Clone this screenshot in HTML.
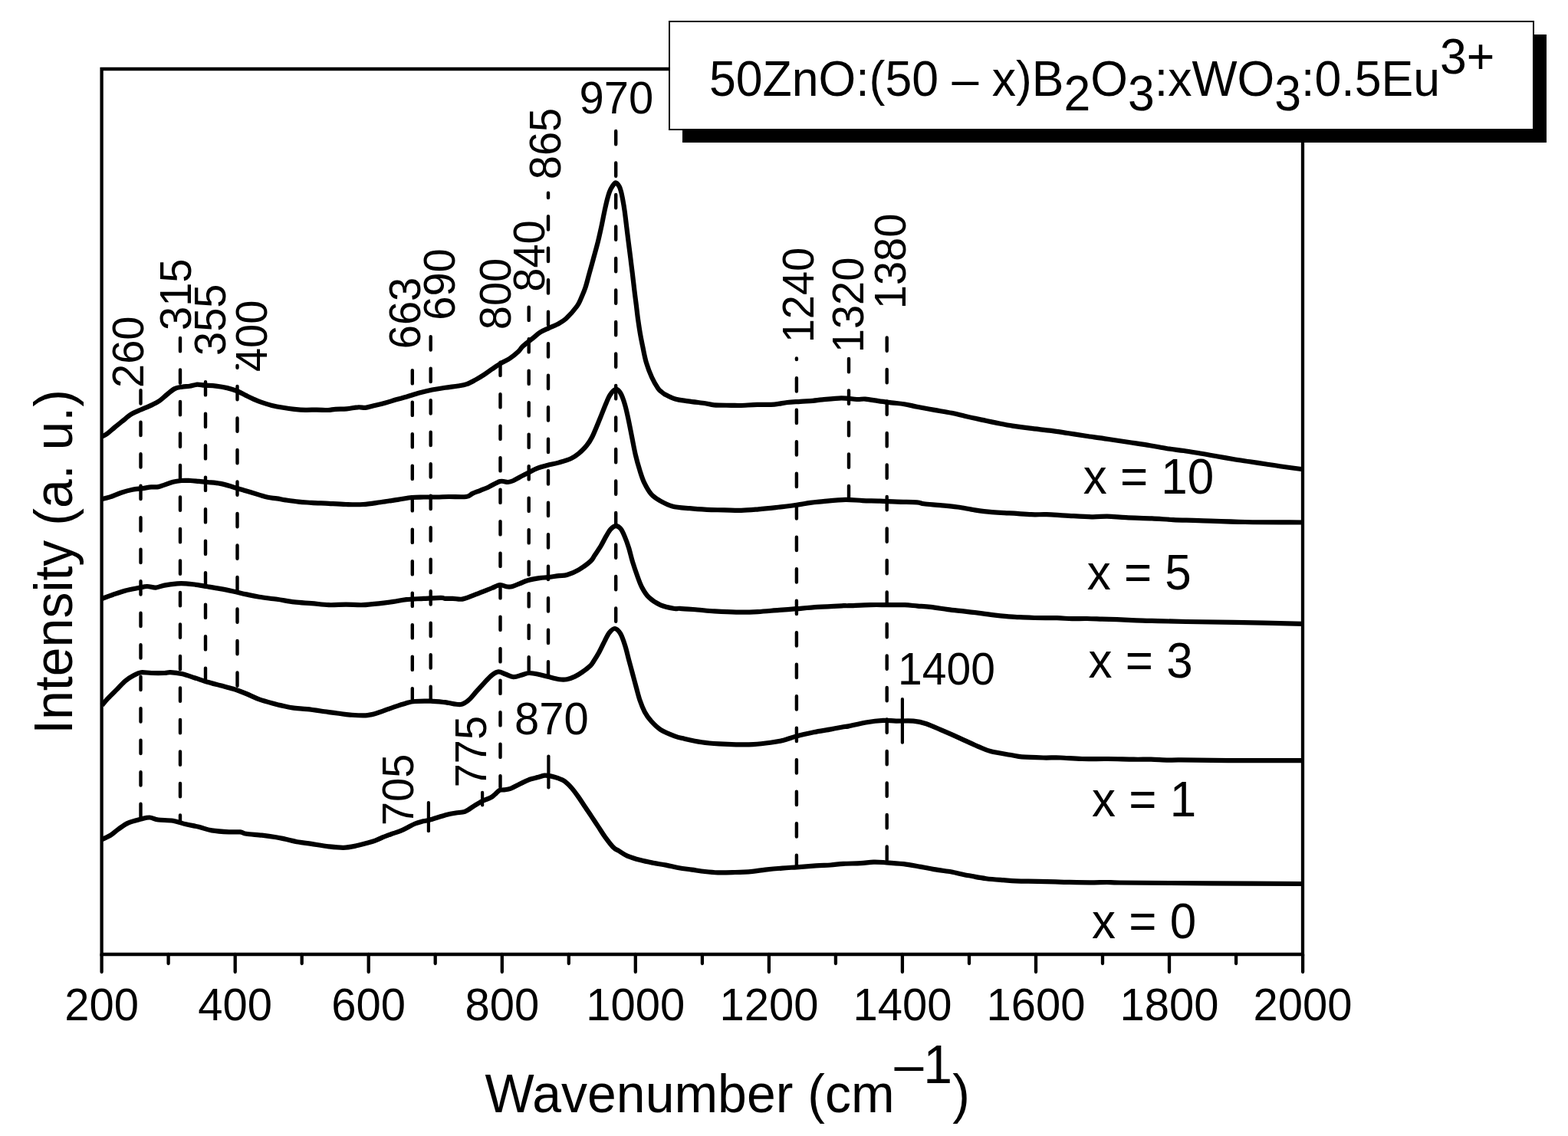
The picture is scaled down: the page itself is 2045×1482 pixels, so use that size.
<!DOCTYPE html>
<html><head><meta charset="utf-8"><title>Raman spectra</title>
<style>html,body{margin:0;padding:0;background:#fff;}svg{display:block;}text{font-family:"Liberation Sans", Arial, Helvetica, sans-serif;fill:#000;}</style></head><body>
<svg width="2045" height="1482" viewBox="0 0 2045 1482">
<rect width="2045" height="1482" fill="#fff"/>
<g stroke="#000" stroke-width="4.3" fill="none" stroke-linecap="square"><path d="M132.6,1245 L132.6,90 L1699,90 L1699,1245 Z"/><path stroke-linecap="round" d="M132.6,1245 L132.6,1268.0 M219.6,1245 L219.6,1257.0 M306.7,1245 L306.7,1268.0 M393.7,1245 L393.7,1257.0 M480.7,1245 L480.7,1268.0 M567.7,1245 L567.7,1257.0 M654.8,1245 L654.8,1268.0 M741.8,1245 L741.8,1257.0 M828.8,1245 L828.8,1268.0 M915.9,1245 L915.9,1257.0 M1002.9,1245 L1002.9,1268.0 M1089.9,1245 L1089.9,1257.0 M1176.9,1245 L1176.9,1268.0 M1264.0,1245 L1264.0,1257.0 M1351.0,1245 L1351.0,1268.0 M1438.0,1245 L1438.0,1257.0 M1525.0,1245 L1525.0,1268.0 M1612.1,1245 L1612.1,1257.0 M1699.1,1245 L1699.1,1268.0"/></g>
<text transform="translate(132.6,1330.5) scale(1,1.035)" font-size="58" text-anchor="middle">200</text>
<text transform="translate(306.7,1330.5) scale(1,1.035)" font-size="58" text-anchor="middle">400</text>
<text transform="translate(480.7,1330.5) scale(1,1.035)" font-size="58" text-anchor="middle">600</text>
<text transform="translate(654.8,1330.5) scale(1,1.035)" font-size="58" text-anchor="middle">800</text>
<text transform="translate(828.8,1330.5) scale(1,1.035)" font-size="58" text-anchor="middle">1000</text>
<text transform="translate(1002.9,1330.5) scale(1,1.035)" font-size="58" text-anchor="middle">1200</text>
<text transform="translate(1176.9,1330.5) scale(1,1.035)" font-size="58" text-anchor="middle">1400</text>
<text transform="translate(1351.0,1330.5) scale(1,1.035)" font-size="58" text-anchor="middle">1600</text>
<text transform="translate(1525.0,1330.5) scale(1,1.035)" font-size="58" text-anchor="middle">1800</text>
<text transform="translate(1699.1,1330.5) scale(1,1.035)" font-size="58" text-anchor="middle">2000</text>
<path d="M183.5,509.0 L183.5,1069.0" stroke="#000" stroke-width="4.4" stroke-linecap="round" stroke-dasharray="17.3 24.2" stroke-dashoffset="41.30" fill="none"/>
<path d="M235.0,440.7 L235.0,1073.0" stroke="#000" stroke-width="4.4" stroke-linecap="round" stroke-dasharray="17.3 24.2" stroke-dashoffset="41.30" fill="none"/>
<path d="M268.0,497.9 L268.0,888.0" stroke="#000" stroke-width="4.4" stroke-linecap="round" stroke-dasharray="17.3 24.2" stroke-dashoffset="41.30" fill="none"/>
<path d="M309.5,477.0 L309.5,900.0" stroke="#000" stroke-width="4.4" stroke-linecap="round" stroke-dasharray="17.3 24.2" stroke-dashoffset="14.50" fill="none"/>
<path d="M537.8,482.9 L537.8,915.0" stroke="#000" stroke-width="4.4" stroke-linecap="round" stroke-dasharray="17.3 24.2" stroke-dashoffset="41.30" fill="none"/>
<path d="M561.7,439.0 L561.7,915.0" stroke="#000" stroke-width="4.4" stroke-linecap="round" stroke-dasharray="17.3 24.2" stroke-dashoffset="41.30" fill="none"/>
<path d="M652.5,472.4 L652.5,1027.0" stroke="#000" stroke-width="4.4" stroke-linecap="round" stroke-dasharray="17.3 24.2" stroke-dashoffset="41.30" fill="none"/>
<path d="M689.7,400.4 L689.7,877.0" stroke="#000" stroke-width="4.4" stroke-linecap="round" stroke-dasharray="17.3 24.2" stroke-dashoffset="41.30" fill="none"/>
<path d="M715.0,251.8 L715.0,882.0" stroke="#000" stroke-width="4.4" stroke-linecap="round" stroke-dasharray="17.3 24.2" stroke-dashoffset="11.10" fill="none"/>
<path d="M803.2,170.8 L803.2,819.0" stroke="#000" stroke-width="4.4" stroke-linecap="round" stroke-dasharray="17.3 24.2" stroke-dashoffset="41.30" fill="none"/>
<path d="M1038.9,467.5 L1038.9,1130.0" stroke="#000" stroke-width="4.4" stroke-linecap="round" stroke-dasharray="17.3 24.2" stroke-dashoffset="15.80" fill="none"/>
<path d="M1107.0,467.7 L1107.0,650.0" stroke="#000" stroke-width="4.4" stroke-linecap="round" stroke-dasharray="17.3 24.2" stroke-dashoffset="41.30" fill="none"/>
<path d="M1156.7,440.2 L1156.7,1124.0" stroke="#000" stroke-width="4.4" stroke-linecap="round" stroke-dasharray="17.3 24.2" stroke-dashoffset="41.30" fill="none"/>
<path d="M558.9,1047.1 L558.9,1084.2" stroke="#000" stroke-width="4.2" stroke-linecap="round" fill="none"/>
<path d="M629.1,1033.9 L629.1,1050.4" stroke="#000" stroke-width="4.2" stroke-linecap="round" fill="none"/>
<path d="M715.4,986.5 L715.4,1027.4" stroke="#000" stroke-width="4.2" stroke-linecap="round" fill="none"/>
<path d="M1176.9,912.1 L1176.9,968.7" stroke="#000" stroke-width="4.2" stroke-linecap="round" fill="none"/>
<path d="M133.0,569.6 C134.1,569.0 137.0,567.8 139.8,565.8 C142.6,563.8 146.3,560.2 149.6,557.5 C152.8,554.8 155.7,552.6 159.3,549.7 C162.9,546.9 167.0,542.9 171.1,540.4 C175.2,537.9 179.2,536.5 183.8,534.5 C188.4,532.5 194.4,530.1 198.5,528.1 C202.6,526.1 204.9,525.1 208.2,522.8 C211.4,520.5 214.7,517.1 218.0,514.5 C221.3,511.9 224.5,508.7 227.8,507.1 C231.1,505.5 234.3,505.3 237.6,504.7 C240.9,504.1 244.2,504.2 247.4,503.7 C250.7,503.2 253.9,501.9 257.1,501.7 C260.4,501.5 262.8,502.4 266.9,502.7 C271.0,503.0 276.7,503.1 281.6,503.7 C286.5,504.3 291.7,505.1 296.3,506.1 C300.9,507.2 304.9,508.4 309.0,510.0 C313.1,511.6 317.2,514.2 320.7,515.9 C324.2,517.6 326.8,518.9 330.0,520.3 C333.2,521.7 335.7,523.0 339.8,524.4 C343.9,525.8 349.6,527.7 354.5,528.9 C359.4,530.1 364.2,531.0 369.1,531.8 C374.0,532.6 378.9,533.3 383.8,533.8 C388.7,534.3 393.6,534.7 398.5,534.8 C403.4,534.9 408.2,534.6 413.1,534.6 C418.0,534.6 423.7,535.1 427.8,535.0 C431.9,534.9 433.5,534.1 437.6,533.8 C441.7,533.5 447.3,533.7 452.2,533.3 C457.1,532.9 462.8,531.5 466.9,531.3 C471.0,531.0 473.4,532.1 476.7,531.8 C480.0,531.5 482.4,530.4 486.5,529.4 C490.6,528.4 496.2,527.3 501.1,526.0 C506.0,524.7 511.0,523.0 515.8,521.6 C520.6,520.2 524.8,519.2 530.0,517.7 C535.2,516.2 541.3,514.0 546.9,512.5 C552.5,511.0 558.1,509.6 563.7,508.5 C569.3,507.4 575.0,506.5 580.6,505.7 C586.2,504.9 592.8,504.2 597.5,503.5 C602.2,502.8 605.0,502.5 608.7,501.2 C612.5,499.9 616.2,497.7 620.0,495.6 C623.8,493.6 627.5,491.3 631.2,488.9 C635.0,486.5 638.8,483.5 642.5,481.0 C646.2,478.5 650.0,475.9 653.7,473.7 C657.5,471.4 661.2,470.0 665.0,467.5 C668.8,465.0 673.4,461.1 676.2,458.5 C679.0,455.9 679.0,454.3 681.8,451.7 C684.6,449.1 689.4,445.7 693.1,442.7 C696.9,439.7 700.5,436.1 704.3,433.7 C708.0,431.3 711.9,429.9 715.6,428.1 C719.4,426.3 723.0,425.2 726.8,423.1 C730.5,421.0 733.8,419.6 738.1,415.7 C742.4,411.8 749.2,404.0 752.5,399.5 C755.8,395.0 756.2,392.9 758.0,388.8 C759.8,384.7 761.7,380.4 763.5,375.0 C765.3,369.6 766.8,363.0 768.6,356.6 C770.4,350.2 772.4,343.1 774.2,336.4 C776.1,329.6 778.0,322.9 779.7,316.1 C781.4,309.4 782.8,302.6 784.3,295.9 C785.8,289.1 787.1,281.5 788.4,275.6 C789.7,269.7 790.8,264.6 791.9,260.4 C793.0,256.2 793.8,253.2 794.9,250.3 C796.0,247.4 797.1,245.2 798.5,243.2 C799.9,241.2 801.5,238.4 803.0,238.4 C804.5,238.4 806.4,241.2 807.6,243.2 C808.8,245.2 809.3,247.4 810.1,250.3 C810.9,253.2 811.4,256.2 812.2,260.4 C813.0,264.6 813.9,269.7 814.7,275.6 C815.5,281.5 816.4,289.1 817.2,295.9 C818.0,302.6 818.9,309.4 819.7,316.1 C820.6,322.9 821.4,329.6 822.3,336.4 C823.1,343.1 823.9,349.5 824.8,356.6 C825.6,363.7 826.6,372.0 827.4,378.9 C828.2,385.8 829.0,391.5 829.8,397.8 C830.6,404.1 831.2,410.4 832.1,416.7 C833.0,423.0 833.9,429.3 835.0,435.6 C836.1,441.9 837.4,448.2 838.7,454.5 C840.0,460.8 841.1,467.1 843.0,473.4 C844.9,479.7 847.6,486.8 850.1,492.3 C852.6,497.8 856.0,503.4 858.1,506.5 C860.2,509.6 861.1,509.7 862.6,511.0 C864.1,512.3 864.1,512.8 867.1,514.4 C870.1,516.0 875.5,519.0 880.6,520.5 C885.7,522.0 890.9,522.4 897.5,523.4 C904.1,524.4 914.4,525.4 920.0,526.2 C925.6,527.0 925.6,528.0 931.2,528.4 C936.8,528.8 948.1,528.7 953.7,528.8 C959.3,528.9 959.4,529.1 965.0,529.0 C970.6,528.9 980.0,528.1 987.5,527.9 C995.0,527.7 1003.5,528.1 1010.0,527.6 C1016.5,527.1 1021.2,525.6 1026.8,525.0 C1032.4,524.4 1038.2,524.2 1043.7,523.8 C1049.2,523.4 1055.2,523.2 1060.0,522.8 C1064.8,522.4 1066.3,522.0 1072.5,521.4 C1078.7,520.8 1089.7,519.4 1097.2,519.3 C1104.7,519.2 1112.2,520.8 1117.5,521.0 C1122.8,521.2 1124.0,520.2 1128.7,520.6 C1133.4,521.0 1140.0,522.3 1145.6,523.1 C1151.2,523.9 1156.9,524.6 1162.5,525.3 C1168.1,526.0 1173.7,526.3 1179.3,527.2 C1184.9,528.1 1189.6,529.4 1196.2,530.7 C1202.8,532.0 1211.2,533.5 1218.7,534.9 C1226.2,536.2 1234.6,537.5 1241.2,538.8 C1247.8,540.1 1251.6,541.2 1258.1,542.7 C1264.6,544.2 1273.3,546.2 1280.0,547.6 C1286.7,549.0 1291.3,550.1 1298.1,551.4 C1304.9,552.7 1313.1,554.4 1320.6,555.6 C1328.1,556.8 1334.7,557.7 1343.1,558.7 C1351.5,559.8 1362.8,560.8 1371.2,561.9 C1379.6,563.0 1386.2,564.1 1393.7,565.2 C1401.2,566.4 1407.8,567.5 1416.2,568.8 C1424.6,570.0 1434.9,571.3 1444.3,572.7 C1453.7,574.1 1463.2,575.6 1472.5,577.0 C1481.8,578.4 1491.7,579.8 1500.0,581.2 C1508.3,582.6 1515.0,584.1 1522.3,585.2 C1529.6,586.3 1536.6,587.0 1543.8,588.0 C1551.0,589.0 1558.1,590.3 1565.3,591.5 C1572.5,592.7 1579.6,594.0 1586.8,595.3 C1594.0,596.5 1601.1,597.8 1608.3,599.0 C1615.5,600.2 1622.7,601.2 1629.9,602.3 C1637.1,603.4 1644.2,604.4 1651.4,605.5 C1658.6,606.6 1665.0,607.6 1672.9,608.7 C1680.8,609.8 1694.7,611.7 1699.0,612.3" stroke="#000" stroke-width="6.2" fill="none" stroke-linejoin="round" stroke-linecap="butt"/>
<path d="M133.0,651.0 C134.8,650.6 139.3,649.8 143.5,648.4 C147.7,647.0 153.2,644.3 158.1,642.7 C163.0,641.1 168.0,639.7 172.7,638.8 C177.4,637.9 182.1,637.7 186.2,637.1 C190.3,636.5 194.1,635.7 197.5,635.4 C200.9,635.1 203.7,635.6 206.5,635.1 C209.3,634.6 211.2,633.7 214.4,632.6 C217.6,631.5 221.9,629.6 225.6,628.7 C229.3,627.8 233.1,627.3 236.8,627.0 C240.6,626.7 244.3,626.9 248.1,627.0 C251.8,627.1 255.6,627.6 259.3,627.9 C263.1,628.2 265.9,628.5 270.6,629.0 C275.3,629.5 281.9,629.8 287.5,630.9 C293.1,632.0 298.7,633.8 304.3,635.4 C309.9,637.0 315.6,638.8 321.2,640.5 C326.8,642.2 333.4,644.2 338.1,645.6 C342.8,647.0 345.5,648.0 349.3,648.8 C353.1,649.6 357.3,649.8 361.2,650.4 C365.1,651.0 367.8,651.7 372.5,652.4 C377.2,653.1 383.8,654.1 389.4,654.7 C395.0,655.3 399.6,655.4 406.2,655.8 C412.8,656.2 421.2,656.5 428.7,656.9 C436.2,657.3 443.7,657.8 451.2,658.0 C458.7,658.2 466.2,658.5 473.7,658.0 C481.2,657.5 488.7,656.2 496.2,655.2 C503.7,654.2 512.0,652.9 518.7,651.9 C525.5,650.9 531.1,649.6 536.7,649.0 C542.3,648.4 547.0,648.6 552.5,648.5 C558.0,648.4 564.5,648.6 570.0,648.5 C575.5,648.4 579.1,648.1 585.4,648.0 C591.7,647.9 602.9,648.7 608.0,648.0 C613.1,647.3 613.1,645.3 616.2,643.9 C619.3,642.5 623.1,641.2 626.5,639.8 C629.9,638.4 632.4,637.7 636.7,635.7 C641.0,633.7 647.9,629.1 652.2,628.0 C656.5,626.9 659.5,629.2 662.4,629.0 C665.3,628.8 667.0,628.1 669.6,627.0 C672.2,625.9 674.5,624.1 677.8,622.4 C681.0,620.7 685.2,618.7 689.1,616.7 C693.0,614.7 697.3,612.2 701.4,610.6 C705.5,609.0 709.2,608.2 713.8,607.0 C718.4,605.8 724.1,604.9 729.2,603.4 C734.3,601.9 740.3,600.2 744.6,598.2 C748.9,596.2 751.4,594.4 754.8,591.6 C758.2,588.8 762.2,584.9 765.1,581.3 C768.0,577.7 769.3,576.0 772.3,570.0 C775.3,564.0 780.0,552.0 782.9,545.0 C785.8,538.0 787.7,532.8 789.8,527.8 C791.9,522.8 793.4,518.5 795.6,515.2 C797.8,511.9 800.7,508.4 803.0,508.0 C805.3,507.6 807.3,509.6 809.3,512.9 C811.3,516.2 813.3,522.1 815.0,527.8 C816.7,533.5 818.1,540.2 819.6,547.3 C821.1,554.4 822.7,562.6 824.2,570.3 C825.7,577.9 827.1,585.9 828.8,593.2 C830.5,600.5 832.6,607.8 834.5,613.9 C836.4,620.0 837.8,624.8 840.3,629.9 C842.8,635.0 846.1,641.0 849.4,644.8 C852.7,648.6 855.4,650.2 860.0,652.8 C864.6,655.4 870.3,658.7 876.9,660.4 C883.5,662.1 891.9,662.5 899.4,663.2 C906.9,664.0 914.4,664.5 921.9,664.9 C929.4,665.3 936.9,665.2 944.4,665.4 C951.9,665.5 959.3,666.0 966.8,665.8 C974.3,665.6 981.8,664.9 989.3,664.3 C996.8,663.7 1003.5,663.0 1011.8,662.1 C1020.0,661.2 1031.3,659.7 1038.8,658.7 C1046.3,657.7 1051.0,656.6 1056.8,655.9 C1062.6,655.1 1066.1,654.9 1073.7,654.2 C1081.3,653.5 1094.0,652.1 1102.5,651.9 C1111.0,651.7 1117.5,652.8 1125.0,653.1 C1132.5,653.4 1140.0,653.3 1147.5,653.6 C1155.0,653.9 1161.9,654.4 1170.0,654.7 C1178.1,655.0 1190.2,654.9 1196.0,655.3 C1201.8,655.7 1200.0,656.6 1205.0,657.3 C1210.0,657.9 1218.9,658.5 1226.2,659.2 C1233.5,659.9 1241.2,660.5 1248.7,661.5 C1256.2,662.5 1263.7,664.3 1271.2,665.4 C1278.7,666.5 1287.2,667.6 1293.7,668.2 C1300.2,668.8 1305.2,669.0 1310.0,669.2 C1314.8,669.5 1316.7,669.4 1322.5,669.7 C1328.3,670.0 1337.9,671.0 1345.0,671.2 C1352.1,671.5 1357.5,671.0 1365.0,671.2 C1372.5,671.4 1380.2,672.1 1390.0,672.6 C1399.8,673.1 1414.7,674.1 1423.7,674.3 C1432.7,674.5 1436.5,673.5 1444.0,673.6 C1451.5,673.8 1459.0,674.7 1468.7,675.2 C1478.4,675.7 1492.2,675.9 1502.4,676.4 C1512.6,676.9 1519.9,677.6 1530.0,678.1 C1540.1,678.6 1547.5,678.6 1563.2,679.1 C1578.9,679.6 1601.3,680.6 1623.9,681.0 C1646.5,681.4 1686.5,681.4 1699.0,681.5" stroke="#000" stroke-width="6.2" fill="none" stroke-linejoin="round" stroke-linecap="butt"/>
<path d="M133.0,781.0 C135.3,780.2 141.8,777.8 146.9,776.0 C152.0,774.2 158.1,771.9 163.7,770.4 C169.3,768.9 175.9,767.9 180.6,767.0 C185.3,766.1 188.2,765.1 191.9,765.0 C195.7,764.9 199.3,766.8 203.1,766.6 C206.8,766.4 209.7,764.5 214.4,763.6 C219.1,762.7 226.5,761.8 231.2,761.4 C235.9,761.0 238.8,761.2 242.5,761.4 C246.2,761.6 249.0,761.9 253.7,762.5 C258.4,763.1 265.0,764.4 270.6,765.3 C276.2,766.2 281.9,767.1 287.5,768.1 C293.1,769.1 298.7,770.3 304.3,771.5 C309.9,772.7 315.6,774.2 321.2,775.4 C326.8,776.6 331.4,777.7 338.1,778.8 C344.8,779.9 353.6,780.7 361.2,781.8 C368.8,782.9 376.2,784.5 383.7,785.4 C391.2,786.3 398.7,786.5 406.2,787.1 C413.7,787.7 421.2,789.0 428.7,789.2 C436.2,789.5 443.7,788.6 451.2,788.6 C458.7,788.6 466.2,789.5 473.7,789.2 C481.2,789.0 489.6,787.8 496.2,787.1 C502.8,786.4 507.5,785.7 513.1,784.9 C518.7,784.1 523.4,782.8 530.0,782.1 C536.6,781.4 545.0,781.3 552.5,780.9 C560.0,780.5 570.4,779.8 575.0,779.8 C579.6,779.8 577.7,780.6 580.3,780.8 C582.9,781.0 586.7,780.7 590.5,780.8 C594.3,780.9 598.6,782.2 602.9,781.6 C607.2,781.0 611.4,779.0 616.2,777.2 C621.0,775.5 627.3,772.8 631.6,771.1 C635.9,769.4 638.5,768.4 641.9,767.0 C645.3,765.6 649.1,763.3 652.2,763.0 C655.3,762.7 657.8,764.9 660.4,765.3 C663.0,765.7 664.7,765.9 667.6,765.2 C670.5,764.5 674.4,762.6 677.8,761.3 C681.2,760.0 683.8,758.4 688.1,757.2 C692.4,756.0 699.0,754.8 703.5,754.1 C708.0,753.4 710.5,753.6 714.8,753.1 C719.1,752.6 725.1,751.6 729.2,751.1 C733.3,750.6 735.1,751.3 739.4,750.0 C743.7,748.7 749.7,746.3 754.8,743.3 C759.9,740.3 766.8,735.2 770.2,732.1 C773.6,729.0 773.2,728.0 775.4,724.7 C777.6,721.4 781.0,716.7 783.5,712.5 C786.0,708.3 788.4,703.1 790.6,699.4 C792.8,695.7 794.6,692.4 796.7,690.2 C798.8,688.0 801.1,686.2 803.3,686.2 C805.5,686.2 807.9,687.8 809.8,690.2 C811.7,692.6 813.2,696.4 814.9,700.4 C816.6,704.4 818.3,709.1 820.0,714.5 C821.7,719.9 823.1,726.7 825.0,732.8 C826.9,738.9 829.1,745.4 831.1,751.0 C833.1,756.6 834.7,761.5 837.2,766.2 C839.7,770.9 842.2,775.4 846.3,779.3 C850.3,783.2 855.9,786.9 861.5,789.4 C867.1,791.9 875.8,793.3 880.0,794.0 C884.2,794.7 882.0,793.5 886.9,793.8 C891.8,794.0 901.9,794.9 909.4,795.5 C916.9,796.1 923.5,796.9 931.9,797.4 C940.3,797.9 950.6,798.5 960.0,798.6 C969.4,798.7 978.7,798.6 988.1,798.1 C997.5,797.6 1007.8,796.5 1016.2,795.9 C1024.6,795.2 1030.3,794.9 1038.7,794.2 C1047.1,793.5 1056.6,792.6 1066.8,791.9 C1077.0,791.2 1093.3,790.5 1100.0,790.2 C1106.7,789.9 1101.1,790.4 1106.9,790.2 C1112.7,790.0 1126.6,789.3 1135.0,789.1 C1143.4,788.9 1150.0,789.1 1157.5,789.1 C1165.0,789.1 1173.5,789.0 1180.0,789.2 C1186.5,789.5 1191.2,790.2 1196.8,790.6 C1202.4,791.0 1207.1,791.1 1213.7,791.9 C1220.3,792.6 1228.7,794.1 1236.2,795.1 C1243.7,796.1 1251.2,796.7 1258.7,797.6 C1266.2,798.5 1274.6,799.6 1281.2,800.4 C1287.8,801.2 1291.6,801.9 1298.1,802.6 C1304.6,803.3 1314.8,804.3 1320.0,804.7 C1325.2,805.1 1324.8,805.0 1329.6,805.2 C1334.4,805.4 1340.9,805.8 1349.1,806.0 C1357.2,806.2 1370.3,806.0 1378.5,806.2 C1386.7,806.4 1391.5,807.1 1398.0,807.2 C1404.5,807.3 1411.1,806.9 1417.6,807.0 C1424.1,807.1 1430.6,807.4 1437.1,807.6 C1443.6,807.8 1450.2,807.9 1456.7,808.1 C1463.2,808.4 1469.8,808.8 1476.3,809.1 C1482.8,809.4 1490.2,809.6 1495.8,809.8 C1501.4,810.0 1501.5,809.9 1510.0,810.1 C1518.5,810.3 1530.6,810.7 1547.0,811.0 C1563.4,811.3 1583.3,811.3 1608.6,811.8 C1633.9,812.3 1683.9,813.5 1699.0,813.8" stroke="#000" stroke-width="6.2" fill="none" stroke-linejoin="round" stroke-linecap="butt"/>
<path d="M133.0,920.0 C134.4,918.4 137.9,914.0 141.2,910.6 C144.4,907.2 148.8,903.1 152.5,899.4 C156.2,895.6 159.9,891.2 163.7,888.1 C167.4,885.0 171.6,882.6 175.0,880.8 C178.4,879.0 180.2,877.7 184.0,877.2 C187.8,876.7 192.4,877.9 197.5,878.0 C202.6,878.1 210.3,878.1 214.4,878.0 C218.5,877.9 218.5,877.0 222.2,877.2 C225.9,877.4 231.6,877.9 236.8,879.1 C242.1,880.3 248.1,882.4 253.7,884.2 C259.3,886.0 265.0,888.1 270.6,889.8 C276.2,891.5 281.9,892.8 287.5,894.3 C293.1,895.8 298.7,897.0 304.3,898.8 C309.9,900.6 315.6,902.8 321.2,905.0 C326.8,907.2 331.6,910.0 338.1,912.3 C344.6,914.6 355.2,917.4 360.0,918.8 C364.8,920.1 363.3,919.6 366.9,920.4 C370.5,921.2 375.9,922.6 381.5,923.4 C387.1,924.2 393.7,924.4 400.6,925.2 C407.5,926.0 416.5,927.3 423.1,928.2 C429.7,929.1 434.4,929.8 440.0,930.5 C445.6,931.2 450.2,932.2 456.8,932.6 C463.4,933.0 472.7,933.7 479.3,933.1 C485.9,932.5 490.6,930.5 496.2,928.8 C501.8,927.0 507.5,924.5 513.1,922.6 C518.7,920.7 525.3,918.5 530.0,917.2 C534.7,915.9 536.0,915.4 541.2,915.0 C546.4,914.6 554.9,914.5 561.4,914.7 C567.9,914.9 576.0,915.8 580.0,916.2 C584.0,916.6 581.9,916.5 585.4,917.0 C588.9,917.5 596.5,919.6 600.8,919.0 C605.1,918.4 607.7,916.2 611.1,913.4 C614.5,910.6 617.9,905.9 621.3,902.1 C624.7,898.3 628.2,894.4 631.6,890.8 C635.0,887.2 638.8,882.9 641.9,880.5 C645.0,878.1 647.2,876.6 650.1,876.4 C653.0,876.2 656.0,878.4 659.3,879.5 C662.5,880.6 666.0,882.9 669.6,883.1 C673.2,883.3 677.5,881.4 680.9,880.5 C684.3,879.6 686.3,878.1 690.1,878.0 C693.9,877.9 699.2,879.1 703.5,880.0 C707.8,880.9 711.5,882.1 715.8,883.1 C720.1,884.1 725.3,885.7 729.2,886.2 C733.1,886.7 736.0,886.8 739.4,886.2 C742.8,885.6 746.3,884.2 749.7,882.6 C753.1,881.0 756.6,878.8 760.0,876.4 C763.4,874.0 767.9,870.4 770.2,868.2 C772.5,866.0 772.1,865.9 774.0,863.0 C775.9,860.1 778.9,855.4 781.3,851.0 C783.7,846.6 786.4,840.6 788.6,836.4 C790.8,832.1 792.4,828.2 794.6,825.5 C796.8,822.8 799.5,819.8 801.9,820.0 C804.3,820.2 807.0,823.0 809.2,826.7 C811.4,830.5 813.5,836.8 815.3,842.5 C817.1,848.2 818.5,854.6 820.1,860.7 C821.7,866.8 823.4,872.8 825.0,878.9 C826.6,885.0 828.3,891.2 829.9,897.1 C831.5,903.0 832.9,908.8 834.7,914.1 C836.5,919.4 838.4,924.2 840.8,928.7 C843.2,933.2 845.9,936.9 849.3,940.8 C852.7,944.6 856.3,948.5 861.4,951.8 C866.5,955.0 874.8,958.3 880.0,960.3 C885.2,962.3 886.7,962.4 892.5,963.7 C898.3,965.0 907.5,967.1 915.0,968.2 C922.5,969.3 930.0,969.9 937.5,970.4 C945.0,970.9 952.5,971.2 960.0,971.3 C967.5,971.4 975.0,971.5 982.5,971.1 C990.0,970.7 998.5,969.7 1005.0,968.8 C1011.5,967.9 1016.2,967.2 1021.8,965.8 C1027.4,964.4 1032.1,962.1 1038.7,960.4 C1045.3,958.6 1053.7,956.8 1061.2,955.3 C1068.7,953.8 1077.2,952.6 1083.7,951.4 C1090.2,950.2 1096.1,948.9 1100.0,948.2 C1103.9,947.5 1102.0,948.4 1106.9,947.4 C1111.8,946.4 1121.9,943.8 1129.4,942.5 C1136.9,941.2 1145.4,940.2 1151.9,939.9 C1158.5,939.6 1162.2,940.5 1168.7,940.6 C1175.2,940.7 1184.6,940.0 1191.2,940.6 C1197.8,941.2 1201.5,942.0 1208.1,944.2 C1214.7,946.4 1223.1,950.5 1230.6,953.7 C1238.1,956.9 1245.6,960.2 1253.1,963.6 C1260.6,967.0 1269.0,971.0 1275.6,973.8 C1282.2,976.6 1285.1,978.4 1292.5,980.3 C1299.9,982.2 1313.3,984.0 1320.0,985.2 C1326.7,986.4 1325.7,986.9 1332.5,987.4 C1339.3,987.9 1352.2,988.3 1360.6,988.5 C1369.0,988.7 1374.7,988.2 1383.1,988.5 C1391.5,988.8 1400.9,989.8 1411.2,990.0 C1421.5,990.2 1433.8,989.9 1445.0,990.0 C1456.2,990.1 1469.3,990.6 1478.7,990.7 C1488.1,990.8 1493.7,990.6 1501.2,990.7 C1508.7,990.9 1517.2,991.5 1523.7,991.6 C1530.2,991.7 1525.8,991.3 1540.0,991.4 C1554.2,991.5 1582.1,992.0 1608.6,992.1 C1635.1,992.2 1683.9,992.1 1699.0,992.1" stroke="#000" stroke-width="6.2" fill="none" stroke-linejoin="round" stroke-linecap="butt"/>
<path d="M133.0,1095.2 C134.9,1094.2 141.0,1091.7 144.6,1089.4 C148.2,1087.1 150.9,1084.1 154.7,1081.5 C158.4,1078.9 162.2,1075.8 167.1,1073.6 C172.0,1071.4 179.3,1069.8 184.0,1068.6 C188.7,1067.4 191.4,1066.3 195.2,1066.5 C198.9,1066.7 201.4,1068.8 206.5,1069.5 C211.6,1070.2 219.6,1069.8 225.6,1070.8 C231.6,1071.8 236.9,1074.0 242.5,1075.3 C248.1,1076.6 253.7,1077.3 259.3,1078.7 C264.9,1080.1 269.6,1082.3 276.2,1083.4 C282.8,1084.5 292.5,1085.1 298.7,1085.4 C304.9,1085.7 309.6,1085.0 313.3,1085.4 C317.1,1085.8 316.5,1087.1 321.2,1087.8 C325.9,1088.5 335.0,1088.9 341.5,1089.6 C348.0,1090.3 354.8,1091.3 360.0,1092.2 C365.2,1093.1 367.6,1093.7 372.5,1094.7 C377.4,1095.8 383.8,1097.5 389.4,1098.5 C395.0,1099.5 399.6,1099.9 406.2,1100.9 C412.8,1101.9 421.8,1103.5 428.7,1104.3 C435.6,1105.1 442.3,1105.9 447.9,1105.8 C453.5,1105.7 457.1,1105.0 462.5,1103.9 C467.9,1102.9 475.5,1100.7 480.0,1099.5 C484.5,1098.3 486.2,1097.9 489.4,1096.7 C492.5,1095.5 496.1,1093.6 498.9,1092.4 C501.7,1091.2 503.6,1090.5 506.0,1089.6 C508.4,1088.7 510.4,1088.2 513.1,1087.2 C515.9,1086.2 519.4,1085.2 522.5,1083.9 C525.6,1082.6 528.9,1080.8 532.0,1079.2 C535.1,1077.6 538.3,1075.8 541.4,1074.5 C544.5,1073.2 547.7,1072.4 550.8,1071.6 C553.9,1070.8 554.6,1071.3 560.0,1069.8 C565.4,1068.3 577.4,1064.3 583.2,1062.8 C589.0,1061.2 590.9,1061.2 594.7,1060.5 C598.5,1059.8 602.4,1060.2 606.2,1058.8 C610.0,1057.4 613.8,1054.2 617.6,1051.9 C621.4,1049.6 625.4,1046.9 629.1,1045.0 C632.8,1043.1 637.3,1042.0 640.0,1040.6 C642.7,1039.2 643.4,1038.1 645.3,1036.5 C647.2,1034.9 649.4,1032.0 651.4,1031.0 C653.4,1030.0 655.0,1030.8 657.5,1030.4 C660.0,1030.0 663.4,1029.6 666.3,1028.6 C669.2,1027.6 672.2,1025.7 675.1,1024.2 C678.0,1022.7 681.0,1021.1 683.9,1019.8 C686.8,1018.5 689.7,1017.2 692.6,1016.3 C695.5,1015.3 698.5,1014.9 701.4,1014.1 C704.3,1013.3 707.3,1012.0 710.2,1011.7 C713.1,1011.5 716.0,1012.0 718.9,1012.6 C721.8,1013.2 724.8,1014.1 727.7,1015.2 C730.6,1016.3 733.6,1017.1 736.5,1019.2 C739.4,1021.3 742.4,1024.4 745.3,1027.7 C748.2,1031.0 751.1,1035.0 754.0,1039.1 C756.9,1043.2 759.9,1047.9 762.8,1052.3 C765.7,1056.7 768.7,1061.0 771.6,1065.4 C774.5,1069.8 777.5,1074.2 780.4,1078.6 C783.3,1083.0 785.8,1087.3 789.1,1091.8 C792.4,1096.3 797.0,1102.5 800.0,1105.5 C803.0,1108.5 803.9,1108.1 806.9,1109.9 C809.9,1111.8 813.4,1114.6 818.1,1116.6 C822.8,1118.6 829.4,1120.6 835.0,1122.1 C840.6,1123.6 846.3,1124.7 851.9,1125.8 C857.5,1126.9 863.1,1127.5 868.7,1128.6 C874.3,1129.7 880.0,1131.3 885.6,1132.3 C891.2,1133.3 896.9,1133.8 902.5,1134.6 C908.1,1135.4 913.7,1136.4 919.3,1137.0 C924.9,1137.6 929.6,1138.1 936.2,1138.3 C942.8,1138.5 951.2,1138.2 958.7,1138.0 C966.2,1137.8 974.6,1137.4 981.2,1136.8 C987.8,1136.2 991.6,1135.3 998.1,1134.6 C1004.6,1133.9 1013.1,1133.1 1020.0,1132.6 C1026.8,1132.0 1031.9,1131.8 1039.2,1131.3 C1046.5,1130.8 1056.7,1129.9 1064.0,1129.4 C1071.3,1128.9 1077.1,1128.9 1083.1,1128.5 C1089.1,1128.1 1093.4,1127.2 1100.0,1126.8 C1106.6,1126.4 1116.0,1126.6 1122.5,1126.2 C1129.0,1125.8 1133.7,1124.8 1139.3,1124.6 C1144.9,1124.4 1149.6,1124.9 1156.2,1125.3 C1162.8,1125.7 1171.2,1126.3 1178.7,1127.2 C1186.2,1128.1 1194.6,1129.8 1201.2,1130.9 C1207.8,1132.1 1211.6,1133.0 1218.1,1134.1 C1224.6,1135.2 1235.2,1136.5 1240.0,1137.3 C1244.8,1138.1 1243.0,1138.0 1246.9,1138.8 C1250.9,1139.6 1257.2,1141.1 1263.7,1142.3 C1270.2,1143.5 1278.7,1145.2 1286.2,1146.2 C1293.7,1147.2 1302.1,1147.7 1308.7,1148.2 C1315.3,1148.7 1318.1,1149.1 1325.6,1149.4 C1333.1,1149.7 1343.4,1149.6 1353.7,1149.8 C1364.0,1150.0 1376.2,1150.5 1387.5,1150.8 C1398.8,1151.0 1411.8,1151.3 1421.2,1151.3 C1430.6,1151.3 1437.2,1151.0 1443.7,1151.0 C1450.2,1151.0 1446.2,1151.3 1460.0,1151.5 C1473.8,1151.7 1498.3,1151.8 1526.5,1152.0 C1554.7,1152.2 1600.5,1152.4 1629.2,1152.6 C1658.0,1152.8 1687.4,1152.9 1699.0,1153.0" stroke="#000" stroke-width="6.2" fill="none" stroke-linejoin="round" stroke-linecap="butt"/>
<text transform="translate(187.1,459.2) rotate(-90) scale(1,1.035)" font-size="56" text-anchor="middle">260</text>
<text transform="translate(249.2,384.2) rotate(-90) scale(1,1.035)" font-size="56" text-anchor="middle">315</text>
<text transform="translate(294.0,417.2) rotate(-90) scale(1,1.035)" font-size="56" text-anchor="middle">355</text>
<text transform="translate(347.5,438.4) rotate(-90) scale(1,1.035)" font-size="56" text-anchor="middle">400</text>
<text transform="translate(548.4,408.5) rotate(-90) scale(1,1.035)" font-size="56" text-anchor="middle">663</text>
<text transform="translate(593.2,371.0) rotate(-90) scale(1,1.035)" font-size="56" text-anchor="middle">690</text>
<text transform="translate(666.0,383.5) rotate(-90) scale(1,1.035)" font-size="56" text-anchor="middle">800</text>
<text transform="translate(710.0,334.0) rotate(-90) scale(1,1.035)" font-size="56" text-anchor="middle">840</text>
<text transform="translate(731.4,187.5) rotate(-90) scale(1,1.035)" font-size="56" text-anchor="middle">865</text>
<text transform="translate(1060.6,385.1) rotate(-90) scale(1,1.035)" font-size="56" text-anchor="middle">1240</text>
<text transform="translate(1126.0,397.9) rotate(-90) scale(1,1.035)" font-size="56" text-anchor="middle">1320</text>
<text transform="translate(1180.5,340.9) rotate(-90) scale(1,1.035)" font-size="56" text-anchor="middle">1380</text>
<text transform="translate(539.1,1030.4) rotate(-90) scale(1,1.035)" font-size="56" text-anchor="middle">705</text>
<text transform="translate(633.7,980.6) rotate(-90) scale(1,1.035)" font-size="56" text-anchor="middle">775</text>
<text transform="translate(803.8,147.6) scale(1,1.035)" font-size="58" text-anchor="middle">970</text>
<text transform="translate(719.4,957.8) scale(1,1.035)" font-size="58" text-anchor="middle">870</text>
<text transform="translate(1234.5,893.3) scale(1,1.035)" font-size="57" text-anchor="middle">1400</text>
<text transform="translate(1412.7,644.1) scale(1,1.035)" font-size="62" xml:space="preserve">x = 10</text>
<text transform="translate(1417.7,769.2) scale(1,1.035)" font-size="62" xml:space="preserve">x = 5</text>
<text transform="translate(1419.6,884.3) scale(1,1.035)" font-size="62" xml:space="preserve">x = 3</text>
<text transform="translate(1424.1,1065.3) scale(1,1.035)" font-size="62" xml:space="preserve">x = 1</text>
<text transform="translate(1424.1,1223.5) scale(1,1.035)" font-size="62" xml:space="preserve">x = 0</text>
<text transform="translate(632.6,1451) scale(1,1.035)" font-size="68">Wavenumber (cm<tspan dy="-36.4">&#8211;1</tspan><tspan dy="36.4">)</tspan></text>
<text transform="translate(93.5,733) rotate(-90) scale(1,1.035)" font-size="68" text-anchor="middle">Intensity (a. u.)</text>
<rect x="890" y="45" width="1127" height="141" fill="#000"/>
<rect x="873" y="28" width="1127" height="141" fill="#fff" stroke="#000" stroke-width="2"/>
<text transform="translate(924.9,125) scale(1,1.035)" font-size="62.6">50ZnO:(50 &#8211; x)B<tspan dy="18.36">2</tspan><tspan dy="-18.36">O</tspan><tspan dy="18.36">3</tspan><tspan dy="-18.36">:xWO</tspan><tspan dy="18.36">3</tspan><tspan dy="-18.36">:0.5Eu</tspan><tspan dy="-28.02">3+</tspan></text>
</svg>
</body></html>
